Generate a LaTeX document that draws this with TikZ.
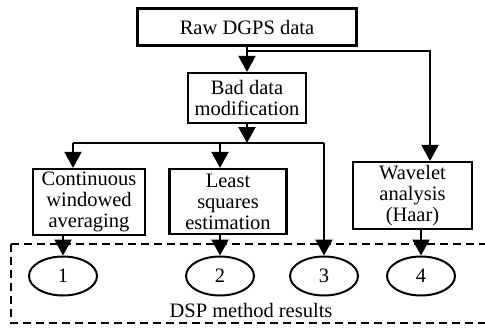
\documentclass[tikz,border=0pt]{standalone}
\usepackage{fontspec}
\setmainfont{Liberation Serif}
\usetikzlibrary{arrows.meta, shapes.geometric}
\tikzset{
    >={Triangle[width=17pt, length=16pt]},
    stepbox/.style={draw, line width=2.2pt, align=center, inner sep=2pt,
        font=\fontsize{20.5}{21}\selectfont},
    result/.style={draw, ellipse, line width=2pt, minimum width=68pt,
        minimum height=39pt, inner sep=0pt, font=\fontsize{20.5}{21}\selectfont},
    flow/.style={line width=2.2pt},
    group/.style={dashed, line width=1.6pt, dash pattern=on 8pt off 5pt},
}
\begin{document}
\begin{tikzpicture}[x=1pt, y=-1pt]
    \useasboundingbox (0,0) rectangle (485,329);
    % the dashed group of results
    \draw[group] (11,244) -- (495,244) (11,244) -- (11,323) -- (495,323);
    \node[font=\fontsize{20.5}{21}\selectfont] (dsp) at (251,310) {DSP method results};
    % steps
    \node[stepbox, minimum width=219pt, minimum height=37pt] (raw) at (247,27) {Raw DGPS data};
    \node[stepbox, minimum width=118pt, minimum height=50pt] (bad) at (247,98) {Bad data\\modification};
    \node[stepbox, minimum width=112pt, minimum height=66pt] (avg) at (89,202) {Continuous\\windowed\\averaging};
    \node[stepbox, minimum width=117pt, minimum height=65pt] (lsq) at (228,201.5) {Least\\squares\\estimation};
    \node[stepbox, minimum width=119pt, minimum height=67pt] (wav) at (412.5,195.5) {Wavelet\\analysis\\(Haar)};
    % results
    \foreach \i/\x in {1/63,2/220,3/324,4/421}
        \node[result] (e\i) at (\x,276) {\i};
    % connectors
    \coordinate (rawsplit) at (247,51);
    \coordinate (wavin) at (430,51);
    \coordinate (badsplit) at (247,143);
    \coordinate (c1) at (73,143);
    \coordinate (c2) at (220,143);
    \coordinate (c3) at (324,143);
    \draw[flow, ->] (raw) -- (bad);
    \draw[flow, ->] (rawsplit) -| (wav.north -| wavin);
    \draw[flow, ->] (bad) -- (badsplit);
    \draw[flow] (c1) -- (c3);
    \draw[flow, ->] (c1) -- (avg.north -| c1);
    \draw[flow, ->] (c2) -- (lsq.north -| c2);
    \draw[flow, ->] (c3) -- (e3);
    \draw[flow, ->] (avg.south -| e1) -- (e1);
    \draw[flow, ->] (lsq.south -| e2) -- (e2);
    \draw[flow, ->] (wav.south -| e4) -- (e4);
\end{tikzpicture}
\end{document}
